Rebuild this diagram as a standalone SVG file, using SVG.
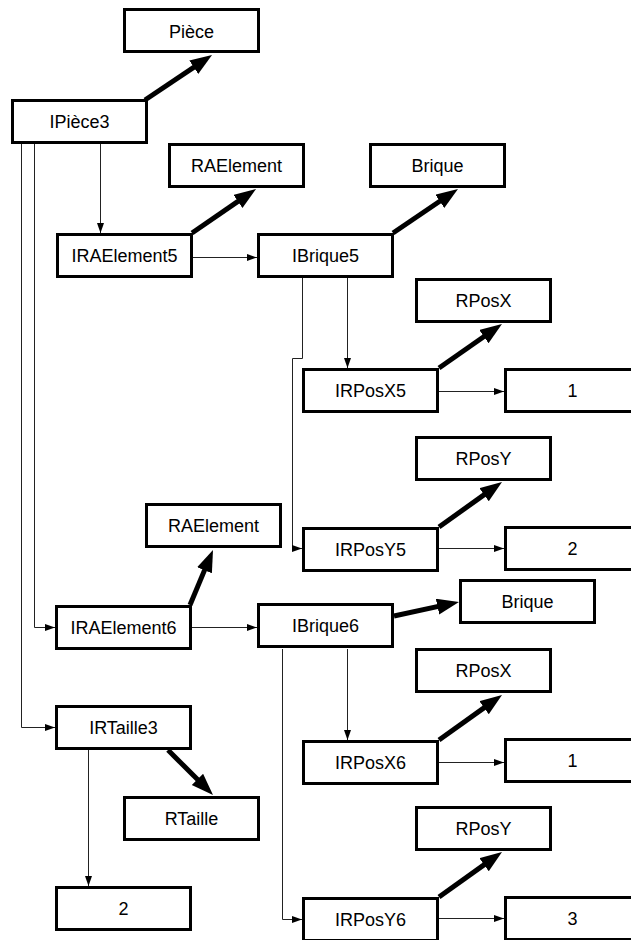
<svg xmlns="http://www.w3.org/2000/svg" width="631" height="940" viewBox="0 0 631 940">
<style>
.box{fill:#fff;stroke:#000;stroke-width:3}
.lbl{font-family:"Liberation Sans",Arial,sans-serif;font-size:18px;fill:#000;text-anchor:middle}
.thin{fill:none;stroke:#222;stroke-width:1}
.thick{fill:none;stroke:#000;stroke-width:5}
</style>
<defs>
<marker id="ah" markerUnits="userSpaceOnUse" markerWidth="11" markerHeight="8" refX="10" refY="3.5" orient="auto"><path d="M0,0 L10,3.5 L0,7 z" fill="#000"/></marker>
<marker id="AH" markerUnits="userSpaceOnUse" markerWidth="23" markerHeight="17" refX="8" refY="8" orient="auto"><path d="M0,0 L22,8 L0,16 z" fill="#000"/></marker>
</defs>
<rect width="631" height="940" fill="#fff"/>
<g id="connectors">
<path class="thin" marker-end="url(#ah)" d="M100.5,144 V233"/>
<path class="thin" marker-end="url(#ah)" d="M192,257.5 H257"/>
<path class="thin" marker-end="url(#ah)" d="M347.5,278 V368"/>
<path class="thin" marker-end="url(#ah)" d="M302.5,278 V358.5 H292.5 V548.5 H302"/>
<path class="thin" marker-end="url(#ah)" d="M439,391.5 H504"/>
<path class="thin" marker-end="url(#ah)" d="M439,548.5 H504"/>
<path class="thin" marker-end="url(#ah)" d="M34.5,144 V627.5 H55"/>
<path class="thin" marker-end="url(#ah)" d="M192,627.5 H257"/>
<path class="thin" marker-end="url(#ah)" d="M21.5,144 V727.5 H55"/>
<path class="thin" marker-end="url(#ah)" d="M347.5,649 V740"/>
<path class="thin" marker-end="url(#ah)" d="M282.5,649 V919.5 H302"/>
<path class="thin" marker-end="url(#ah)" d="M439,762.5 H504"/>
<path class="thin" marker-end="url(#ah)" d="M439,918.5 H504"/>
<path class="thin" marker-end="url(#ah)" d="M88.5,750 V886"/>
<path class="thick" marker-end="url(#AH)" d="M145,100 L200.4,62.8"/>
<path class="thick" marker-end="url(#AH)" d="M192,233 L244.5,196.9"/>
<path class="thick" marker-end="url(#AH)" d="M393,233 L446.4,196.8"/>
<path class="thick" marker-end="url(#AH)" d="M439,368 L490.5,332"/>
<path class="thick" marker-end="url(#AH)" d="M439,527 L490.6,490.1"/>
<path class="thick" marker-end="url(#AH)" d="M190,605 L207.6,562.9"/>
<path class="thick" marker-end="url(#AH)" d="M394,616 L445.3,604.9"/>
<path class="thick" marker-end="url(#AH)" d="M439,740 L490.6,703.1"/>
<path class="thick" marker-end="url(#AH)" d="M439,897 L490.6,860.1"/>
<path class="thick" marker-end="url(#AH)" d="M168,750 L203.1,785.1"/>
</g>
<g id="n1"><rect class="box" x="124.5" y="9.5" width="134" height="42"/><text class="lbl" x="191.5" y="37.5">Pièce</text></g>
<g id="n2"><rect class="box" x="12.5" y="100.5" width="134" height="42"/><text class="lbl" x="79.5" y="128">IPièce3</text></g>
<g id="n3"><rect class="box" x="169.5" y="144.5" width="134" height="42"/><text class="lbl" x="236.5" y="172">RAElement</text></g>
<g id="n4"><rect class="box" x="57.5" y="234.5" width="134" height="42"/><text class="lbl" x="124.5" y="262">IRAElement5</text></g>
<g id="n5"><rect class="box" x="258.5" y="234.5" width="134" height="42"/><text class="lbl" x="325.5" y="262">IBrique5</text></g>
<g id="n6"><rect class="box" x="370.5" y="144.5" width="134" height="42"/><text class="lbl" x="437.5" y="172">Brique</text></g>
<g id="n7"><rect class="box" x="416.5" y="279.5" width="134" height="42"/><text class="lbl" x="483.5" y="307">RPosX</text></g>
<g id="n8"><rect class="box" x="303.5" y="369.5" width="134" height="42"/><text class="lbl" x="370.5" y="397">IRPosX5</text></g>
<g id="n9"><rect class="box" x="505.5" y="369.5" width="134" height="42"/><text class="lbl" x="572.5" y="397">1</text></g>
<g id="n10"><rect class="box" x="416.5" y="437.5" width="134" height="42"/><text class="lbl" x="483.5" y="465">RPosY</text></g>
<g id="n11"><rect class="box" x="303.5" y="528.5" width="134" height="42"/><text class="lbl" x="370.5" y="556">IRPosY5</text></g>
<g id="n12"><rect class="box" x="505.5" y="527.5" width="134" height="42"/><text class="lbl" x="572.5" y="555">2</text></g>
<g id="n13"><rect class="box" x="146.5" y="504.5" width="134" height="42"/><text class="lbl" x="213.5" y="532">RAElement</text></g>
<g id="n14"><rect class="box" x="56.5" y="606.5" width="134" height="42"/><text class="lbl" x="123.5" y="634">IRAElement6</text></g>
<g id="n15"><rect class="box" x="258.5" y="604.5" width="134" height="42"/><text class="lbl" x="325.5" y="632">IBrique6</text></g>
<g id="n16"><rect class="box" x="460.5" y="580.5" width="134" height="42"/><text class="lbl" x="527.5" y="608">Brique</text></g>
<g id="n17"><rect class="box" x="416.5" y="649.5" width="134" height="42"/><text class="lbl" x="483.5" y="677">RPosX</text></g>
<g id="n18"><rect class="box" x="303.5" y="741.5" width="134" height="42"/><text class="lbl" x="370.5" y="769">IRPosX6</text></g>
<g id="n19"><rect class="box" x="505.5" y="739.5" width="134" height="42"/><text class="lbl" x="572.5" y="767">1</text></g>
<g id="n20"><rect class="box" x="416.5" y="807.5" width="134" height="42"/><text class="lbl" x="483.5" y="835">RPosY</text></g>
<g id="n21"><rect class="box" x="303.5" y="898.5" width="134" height="42"/><text class="lbl" x="370.5" y="926">IRPosY6</text></g>
<g id="n22"><rect class="box" x="505.5" y="897.5" width="134" height="42"/><text class="lbl" x="572.5" y="925">3</text></g>
<g id="n23"><rect class="box" x="56.5" y="706.5" width="134" height="42"/><text class="lbl" x="123.5" y="734">IRTaille3</text></g>
<g id="n24"><rect class="box" x="124.5" y="797.5" width="134" height="42"/><text class="lbl" x="191.5" y="825">RTaille</text></g>
<g id="n25"><rect class="box" x="56.5" y="887.5" width="134" height="42"/><text class="lbl" x="123.5" y="915">2</text></g>
</svg>
